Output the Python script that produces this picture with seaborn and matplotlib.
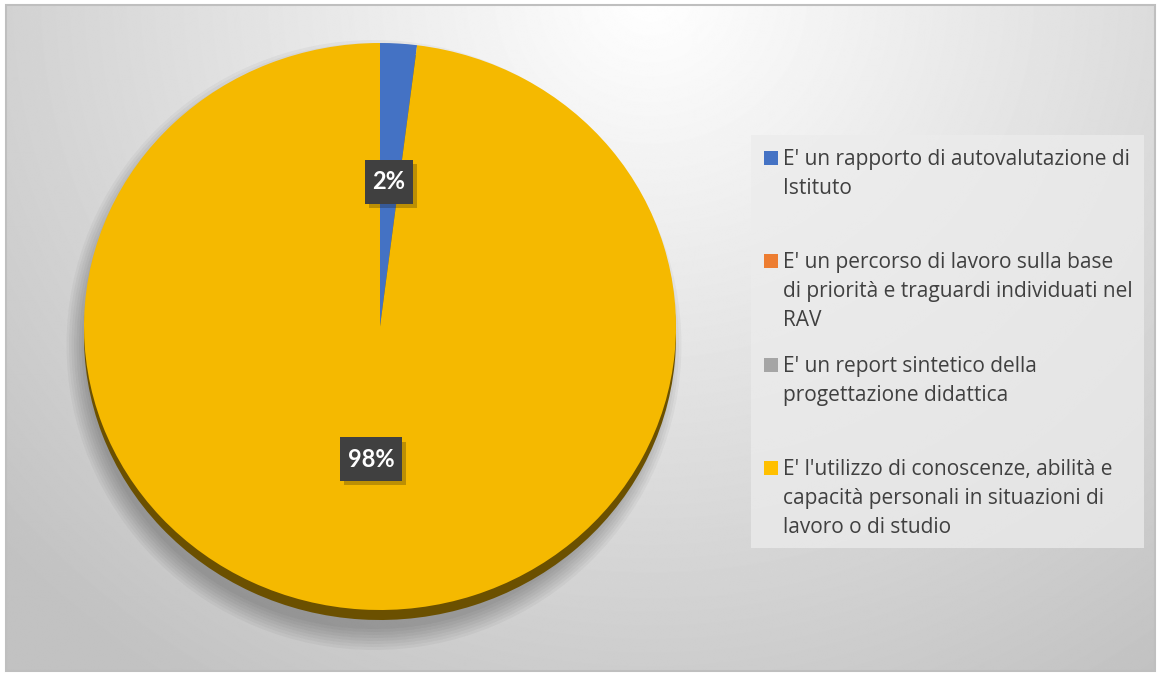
import numpy as np
import seaborn as sns
import matplotlib.pyplot as plt
from matplotlib.patches import Rectangle, Ellipse
from matplotlib import patheffects as pe

# data
labels = [
    "E' un rapporto di autovalutazione di\nIstituto",
    "E' un percorso di lavoro sulla base\ndi priorità e traguardi individuati nel\nRAV",
    "E' un report sintetico della\nprogettazione didattica",
    "E' l'utilizzo di conoscenze, abilità e\ncapacità personali in situazioni di\nlavoro o di studio",
]
values = [2, 0, 0, 98]
colors = sns.color_palette(['#4472C4', '#ED7D31', '#A5A5A5', '#F5B900'])
legend_colors = ['#4472C4', '#ED7D31', '#A5A5A5', '#FFC000']
depth_colors = ['#243d6b', '#7a3f17', '#555555', '#6b5000']

sns.set_theme(style='white')
plt.rcParams['font.family'] = ['Open Sans', 'DejaVu Sans']

W, H = 1159, 675
fig = plt.figure(figsize=(W / 100, H / 100), dpi=100)
fig.patch.set_facecolor('white')

# background in pixel coordinates
bg = fig.add_axes([0, 0, 1, 1])
bg.set_xlim(0, W)
bg.set_ylim(H, 0)
bg.axis('off')

yy, xx = np.mgrid[0:H, 0:W]
d = np.hypot((xx - 650) * 0.95, yy + 10)
grad = np.clip(1 - 0.23 * d / 800, 0.76, 1)
bg.imshow(grad, cmap='gray', vmin=0, vmax=1, extent=(6, 1155, 671, 5), zorder=0, aspect='auto')
bg.add_patch(Rectangle((6, 5), 1149, 666, fill=False, edgecolor='#bfbfbf', lw=1.5, zorder=1))

# soft shadow under the pie
for i in range(8):
    bg.add_patch(Ellipse((374, 345), 580 + i * 5, 568 + i * 6, facecolor='black',
                         alpha=0.035, lw=0, zorder=1))

# legend panel
bg.add_patch(Rectangle((751, 135), 393, 413, facecolor='#ececec', alpha=0.75, lw=0, zorder=1))
for i, (lab, col) in enumerate(zip(labels, legend_colors)):
    base = 165 + 103.3 * i
    bg.add_patch(Rectangle((764, base - 14), 14, 14, facecolor=col, lw=0, zorder=2))
    for j, line in enumerate(lab.split('\n')):
        bg.text(783, base + 29 * j, line, fontsize=15, color='#404040',
                va='baseline', ha='left', zorder=3)

# pie: center (380, 326.5), half axes 296 x 283.5 px
cx, cy, rx, ry = 380, 326.5, 296, 283.5
lim = 1.1
ax = fig.add_axes([(cx - rx * lim) / W, 1 - (cy + ry * lim) / H, 2 * rx * lim / W, 2 * ry * lim / H])

# depth of the pie
ax.pie(values, colors=depth_colors, startangle=90, counterclock=False,
       center=(0, -10 / ry), radius=1, frame=True, wedgeprops={'linewidth': 0})

wedges, texts, autotexts = ax.pie(
    values, colors=colors, startangle=90, counterclock=False, radius=1, frame=True,
    autopct=lambda p: f'{p:.0f}%' if p > 0 else '', pctdistance=0.49,
    wedgeprops={'linewidth': 0},
    textprops={'color': 'white', 'fontsize': 17, 'fontweight': 'bold', 'family': ['Lato', 'DejaVu Sans']})
ax.set_aspect('auto')
ax.set_xlim(-lim, lim)
ax.set_ylim(-lim, lim)
ax.axis('off')

for t in autotexts:
    if t.get_text():
        x, y = t.get_position()
        t.set_position((x, y + 6 / ry))
        t.set_bbox(dict(boxstyle='square,pad=0.32', facecolor='#404040', edgecolor='none',
                        mutation_aspect=1.35))
        t.get_bbox_patch().set_path_effects([pe.SimplePatchShadow(offset=(3, -3), alpha=0.25),
                                             pe.Normal()])

fig.savefig('out.png', dpi=100)
